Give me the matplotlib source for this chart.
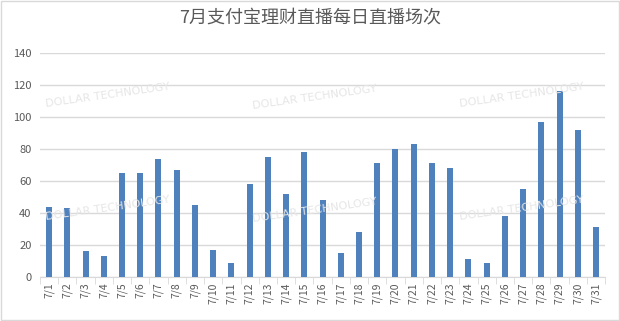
import numpy as np
import matplotlib.pyplot as plt
from matplotlib.patches import Rectangle

plt.rcParams['font.family'] = ['Noto Sans CJK SC', 'DejaVu Sans']

# data
days = ['7/%d' % d for d in range(1, 32)]
sessions = [44, 43, 16, 13, 65, 65, 74, 67, 45, 17, 9, 58, 75, 52, 78, 48,
            15, 28, 71, 80, 83, 71, 68, 11, 9, 38, 55, 97, 116, 92, 31]
y_ticks = [0, 20, 40, 60, 80, 100, 120, 140]

text_color = '#595959'
grid_color = '#D9D9D9'
bar_color = '#4F81BD'

fig = plt.figure(figsize=(6.2, 3.21), dpi=100)
ax = fig.add_axes([0.0645, 0.137, 0.9115, 0.698])

x = np.arange(len(days))
ax.bar(x, sessions, width=0.33, color=bar_color, zorder=3)

ax.set_ylim(0, 140)
ax.set_xlim(-0.5, len(days) - 0.5)
ax.set_yticks(y_ticks)
ax.set_xticks(x)
ax.set_xticklabels(days, rotation=90)
ax.set_xticks(np.arange(len(days) + 1) - 0.5, minor=True)
ax.tick_params(axis='x', which='major', length=0, pad=4, labelsize=7.5, colors=text_color)
ax.tick_params(axis='x', which='minor', length=5, color=grid_color)
ax.tick_params(axis='y', length=0, pad=6, labelsize=8, colors=text_color)

ax.grid(axis='y', color=grid_color, linewidth=1, zorder=0)
for side in ['top', 'right', 'left']:
    ax.spines[side].set_visible(False)
ax.spines['bottom'].set_color(grid_color)

fig.text(0.5, 0.944, '7月支付宝理财直播每日直播场次', ha='center', va='center',
         fontsize=13, color=text_color)

# watermark
for wx, wy in [(108, 95), (315, 97), (522, 95), (108, 208), (315, 210), (522, 208)]:
    fig.text(wx / 620, 1 - wy / 321, 'DOLLAR TECHNOLOGY', ha='center', va='center',
             rotation=8, fontsize=8, color='#E6E6E6', family='DejaVu Sans', zorder=5)

fig.patches.append(Rectangle((0.001, 0.002), 0.997, 0.995, transform=fig.transFigure,
                             fill=False, edgecolor=grid_color, linewidth=1))

fig.savefig('out.png', dpi=100)
